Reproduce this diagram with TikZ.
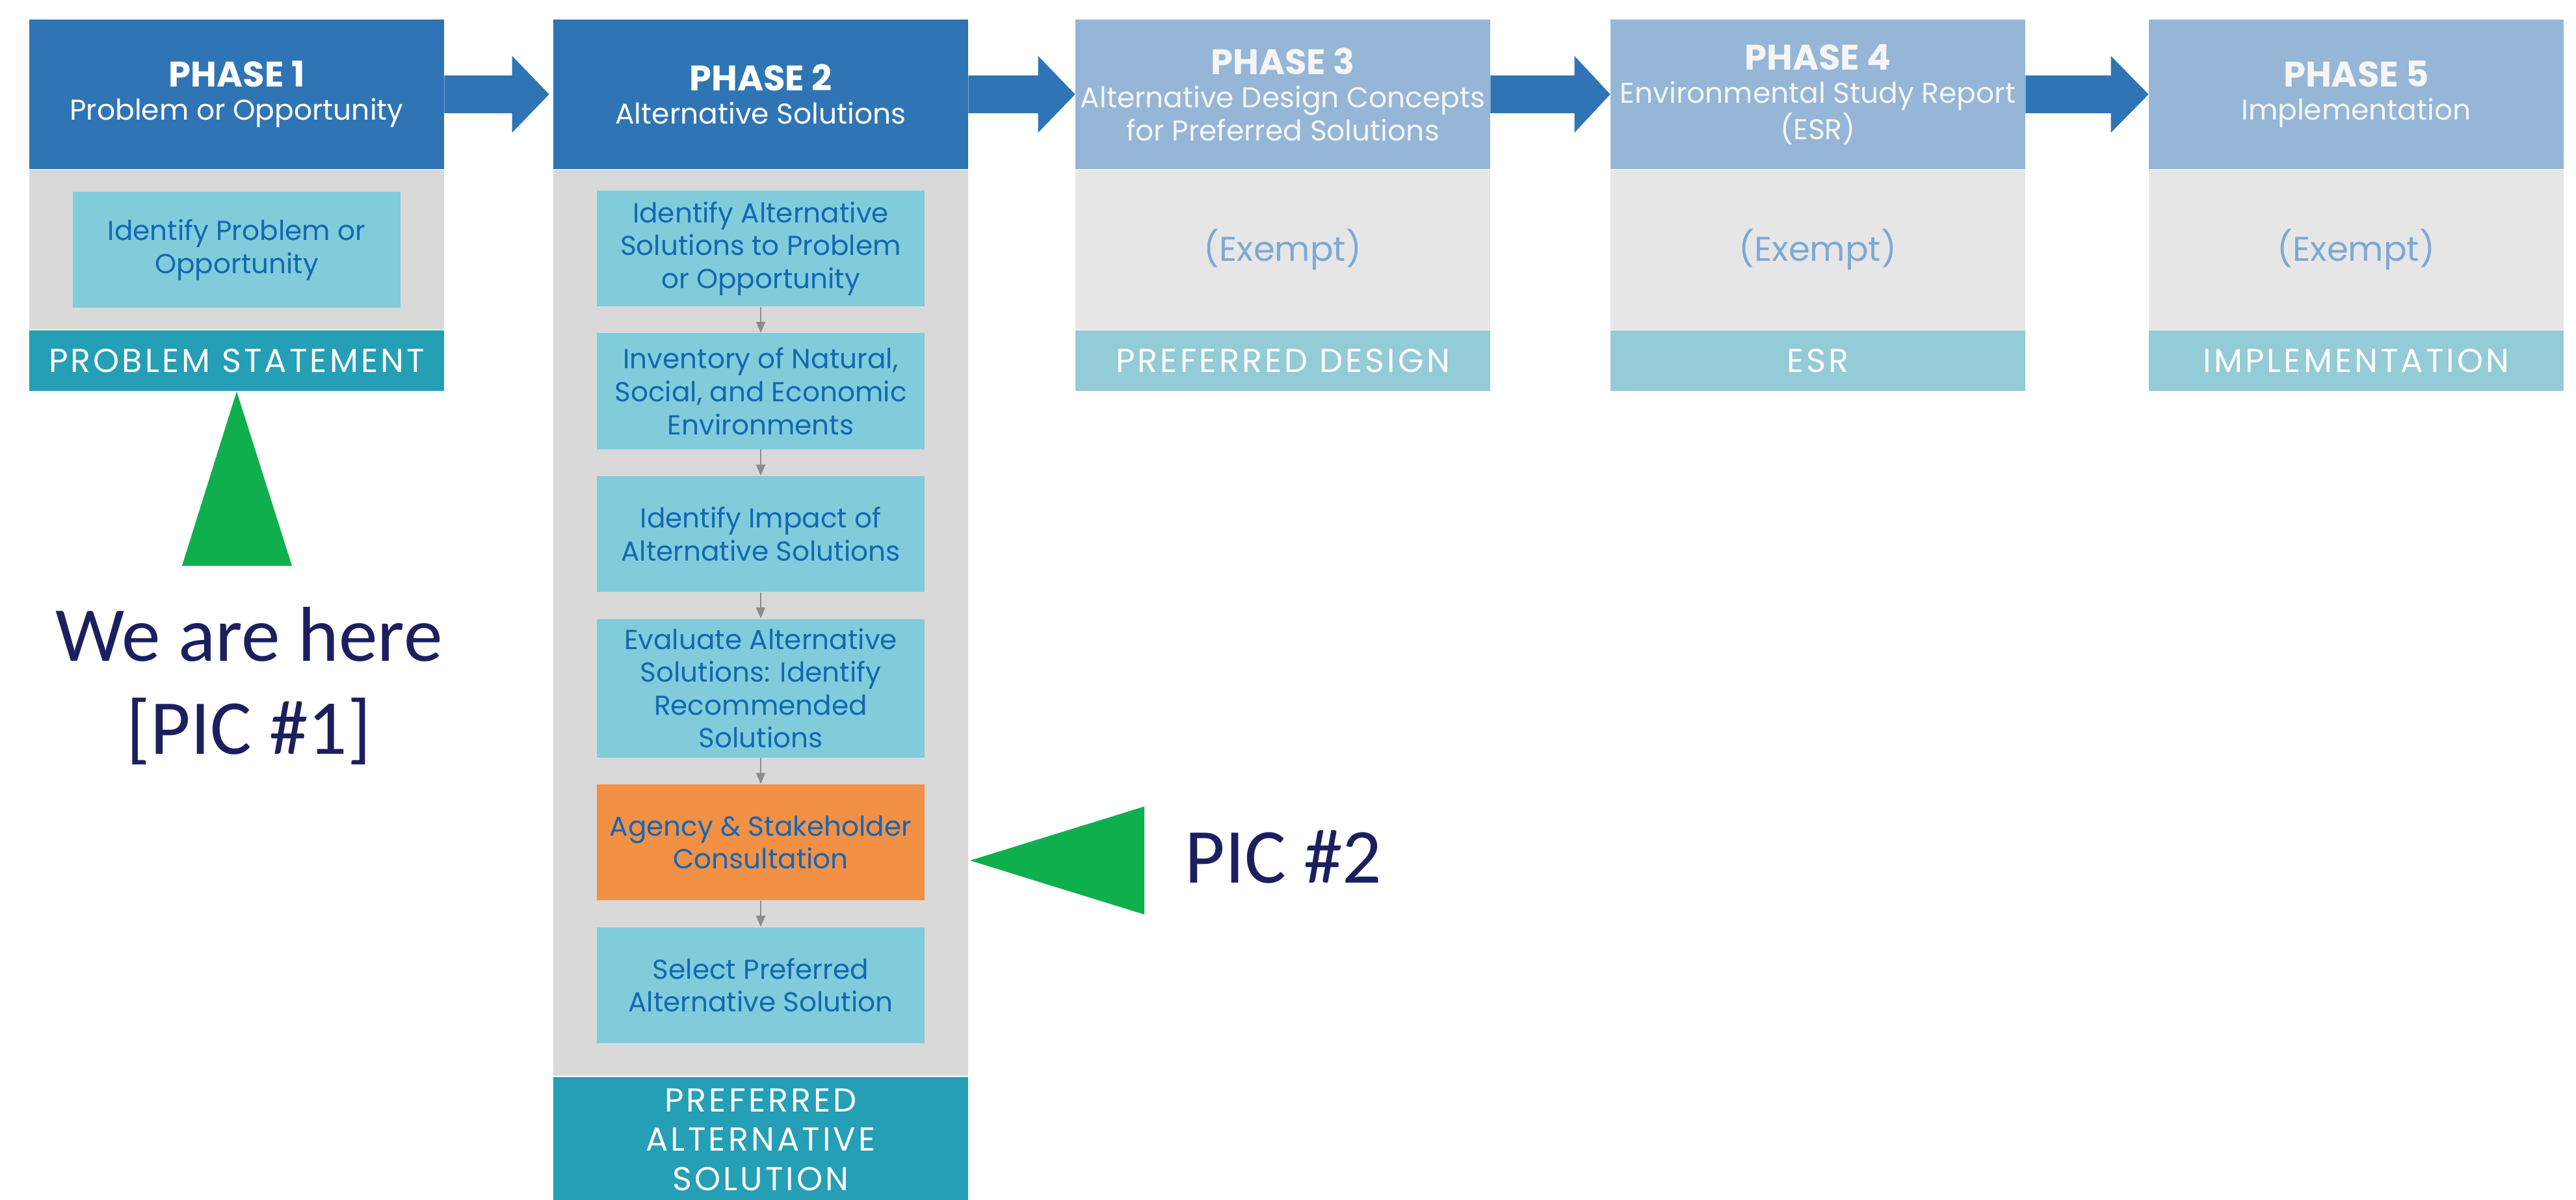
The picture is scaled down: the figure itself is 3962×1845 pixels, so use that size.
\documentclass[tikz,border=0pt]{standalone}
\usepackage{fontspec}
\setmainfont{Poppins}
\newfontfamily\notefont{Carlito}
\usetikzlibrary{positioning,calc,arrows.meta}

\definecolor{hdark}{HTML}{2F74B5}
\definecolor{hlight}{HTML}{95B6D6}
\definecolor{bodydark}{HTML}{D9D9D9}
\definecolor{bodylight}{HTML}{E6E6E6}
\definecolor{stepcyan}{HTML}{80CCDB}
\definecolor{steptext}{HTML}{1467B3}
\definecolor{outdark}{HTML}{249FB6}
\definecolor{outlight}{HTML}{93CBD6}
\definecolor{consult}{HTML}{F29045}
\definecolor{pointer}{HTML}{10AF4E}
\definecolor{navy}{HTML}{1C1F5E}
\definecolor{exempt}{HTML}{7CA9D5}

\newcommand\phasetitle[1]{{\fontsize{15.5}{18}\selectfont\bfseries #1}}

\tikzset{
  block/.style={inner sep=0pt, minimum width=6.37cm, align=center},
  header/.style={block, minimum height=2.3cm, text=white,
    font=\fontsize{12.5}{14.5}\selectfont},
  body/.style={block, minimum height=2.45cm},
  outbar/.style={block, minimum height=0.93cm, text=white,
    font=\fontsize{14.5}{17.3}\selectfont\addfontfeatures{LetterSpace=8}},
  stepbox/.style={inner sep=0pt, minimum width=5.04cm, minimum height=1.78cm,
    align=center, fill=stepcyan, text=steptext,
    font=\fontsize{12}{14.4}\selectfont},
  steparrow/.style={draw=gray!90, line width=0.6pt,
    -{Triangle[length=0.17cm,width=0.14cm]}},
  note/.style={text=navy, align=center, font=\notefont\fontsize{34}{40.7}\selectfont}
}

\begin{document}
\begin{tikzpicture}[x=0.01cm,y=-0.01cm]
\useasboundingbox (0,0) rectangle (3962,1845);

% phase 1
\node[header, fill=hdark] (p1head) at (364,145) {\phasetitle{PHASE 1}\\Problem or Opportunity};
\node[body, fill=bodydark, below=0pt of p1head] (p1body) {};
\node[outbar, fill=outdark, below=0pt of p1body] (p1out) {PROBLEM STATEMENT};
\node[stepbox] (p1step) at (p1body) {Identify Problem or\\Opportunity};

% phase 2
\node[header, fill=hdark] (p2head) at (1170,145) {\phasetitle{PHASE 2}\\Alternative Solutions};
\node[body, fill=bodydark, minimum height=13.92cm, below=0pt of p2head] (p2body) {};
\node[outbar, fill=outdark, minimum height=1.93cm, below=0pt of p2body] (p2out) {PREFERRED\\ALTERNATIVE\\SOLUTION};
\node[stepbox] (p2a) at (1170,382) {Identify Alternative\\Solutions to Problem\\or Opportunity};
\node[stepbox, below=0.4cm of p2a] (p2b) {Inventory of Natural,\\Social, and Economic\\Environments};
\node[stepbox, below=0.4cm of p2b] (p2c) {Identify Impact of\\Alternative Solutions};
\node[stepbox, minimum height=2.13cm, below=0.4cm of p2c] (p2d) {Evaluate Alternative\\Solutions: Identify\\Recommended\\Solutions};
\node[stepbox, fill=consult, below=0.4cm of p2d] (p2e) {Agency \& Stakeholder\\Consultation};
\node[stepbox, below=0.4cm of p2e] (p2f) {Select Preferred\\Alternative Solution};
\draw[steparrow] (p2a) -- (p2b);
\draw[steparrow] (p2b) -- (p2c);
\draw[steparrow] (p2c) -- (p2d);
\draw[steparrow] (p2d) -- (p2e);
\draw[steparrow] (p2e) -- (p2f);

% phases 3 to 5
\node[header, fill=hlight, text=white!96!black] (p3head) at (1973,145) {\phasetitle{PHASE 3}\\Alternative Design Concepts\\for Preferred Solutions};
\node[body, fill=bodylight, text=exempt, font=\fontsize{15}{18}\selectfont, below=0pt of p3head] (p3body) {(Exempt)};
\node[outbar, fill=outlight, below=0pt of p3body] (p3out) {PREFERRED DESIGN};

\node[header, fill=hlight, text=white!96!black] (p4head) at (2796,145) {\phasetitle{PHASE 4}\\Environmental Study Report\\(ESR)};
\node[body, fill=bodylight, text=exempt, font=\fontsize{15}{18}\selectfont, below=0pt of p4head] (p4body) {(Exempt)};
\node[outbar, fill=outlight, below=0pt of p4body] (p4out) {ESR};

\node[header, fill=hlight, text=white!96!black] (p5head) at (3624,145) {\phasetitle{PHASE 5}\\Implementation};
\node[body, fill=bodylight, text=exempt, font=\fontsize{15}{18}\selectfont, below=0pt of p5head] (p5body) {(Exempt)};
\node[outbar, fill=outlight, below=0pt of p5body] (p5out) {IMPLEMENTATION};

% block arrows between phases
\fill[hdark] ($(p1head.east)+(0,-29)$) -- ($(p2head.west)+(-63,-29)$) -- ($(p2head.west)+(-63,-59)$) -- ($(p2head.west)+(-6,0)$)
  -- ($(p2head.west)+(-63,59)$) -- ($(p2head.west)+(-63,29)$) -- ($(p1head.east)+(0,29)$) -- cycle;
\fill[hdark] ($(p2head.east)+(0,-29)$) -- ($(p3head.west)+(-57,-29)$) -- ($(p3head.west)+(-57,-59)$) -- (p3head.west)
  -- ($(p3head.west)+(-57,59)$) -- ($(p3head.west)+(-57,29)$) -- ($(p2head.east)+(0,29)$) -- cycle;
\fill[hdark] ($(p3head.east)+(0,-29)$) -- ($(p4head.west)+(-55,-29)$) -- ($(p4head.west)+(-55,-59)$) -- (p4head.west)
  -- ($(p4head.west)+(-55,59)$) -- ($(p4head.west)+(-55,29)$) -- ($(p3head.east)+(0,29)$) -- cycle;
\fill[hdark] ($(p4head.east)+(0,-29)$) -- ($(p5head.west)+(-58,-29)$) -- ($(p5head.west)+(-58,-59)$) -- (p5head.west)
  -- ($(p5head.west)+(-58,59)$) -- ($(p5head.west)+(-58,29)$) -- ($(p4head.east)+(0,29)$) -- cycle;

% pointers
\fill[pointer] (p1out.south) -- ++(-84,268) -- ++(169,0) -- cycle;
\node[note] (here) at (383,1055) {We are here\\{}[PIC \#1]};
\fill[pointer] (1492,1323) -- (1760,1240) -- (1760,1406) -- cycle;
\node[note] (pic2) at (1974,1318) {PIC \#2};
\end{tikzpicture}
\end{document}
